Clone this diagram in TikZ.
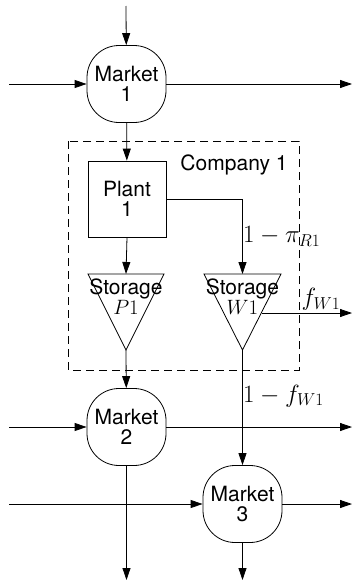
\documentclass[tikz,border=0pt]{standalone}
\usepackage{fontspec}
\setmainfont{TeX Gyre Heros}
\usetikzlibrary{arrows.meta}

\begin{document}
\begin{tikzpicture}[x=1pt,y=-1pt,line width=0.8pt,
    flow/.style={-{Triangle[length=12pt,width=8pt]}},
    market/.style={draw,rounded corners=32pt,minimum width=79pt,minimum height=77pt,align=center,inner sep=0pt},
    plantbox/.style={draw,minimum width=78pt,minimum height=76pt,align=center,inner sep=0pt},
    flowlabel/.style={font=\fontsize{23}{24}\selectfont},
    every node/.append style={font=\fontsize{21}{20}\selectfont}]
    \useasboundingbox (0,0) rectangle (353,581);
    \node[market] (m1) at (126.5,84) {Market\\1};
    \node[plantbox] (plant) at (127,199) {Plant\\1};
    \node[market] (m2) at (126.5,427) {Market\\2};
    \node[market] (m3) at (242.5,504) {Market\\3};
    \draw[dash pattern=on 8pt off 5pt] (68,141) rectangle (299,370);
    \node (comp) at (234,165) {Company 1};
    \draw (88,274) -- (164,274) -- (126,350) coordinate (sp-tip) -- cycle;
    \coordinate (sp-top) at (126,274);
    \node[inner sep=0pt,align=center] (sp) at (126,297) {Storage\\$P1$};
    \draw (204,274) -- (281,274) -- (242.5,350) coordinate (sw-tip) -- cycle;
    \coordinate (sw-top) at (242.5,274);
    \coordinate (sw-side) at (262,313);
    \node[inner sep=0pt,align=center] (sw) at (242.5,297) {Storage\\$W1$};
    \coordinate (in1) at (126,6);
    \coordinate (l1) at (9,84);
    \coordinate (r1) at (352,84);
    \coordinate (l2) at (9,427);
    \coordinate (r2) at (352,427);
    \coordinate (l3) at (9,504);
    \coordinate (r3) at (352,504);
    \coordinate (rw) at (352,313);
    \coordinate (o2) at (126.5,580);
    \coordinate (o3) at (242.5,580);
    \draw[flow] (in1) -- (m1);
    \draw[flow] (l1) -- (m1);
    \draw[flow] (m1) -- (r1);
    \draw[flow] (m1) -- (plant);
    \draw[flow] (plant.south) -- (sp-top);
    \draw[flow] (plant.east |- 0,199) -| (sw-top) node[flowlabel,pos=0.75,right,xshift=-3pt] {$1-\pi_{R1}$};
    \draw[flow] (sw-side) -- (rw) node[flowlabel,midway,above,xshift=14pt,yshift=-1pt] {$f_{W1}$};
    \draw[flow] (sp-tip) -- (m2);
    \draw[flow] (l2) -- (m2);
    \draw[flow] (m2) -- (r2);
    \draw[flow] (sw-tip) -- (m3) node[flowlabel,pos=0.4,right,xshift=-3pt] {$1-f_{W1}$};
    \draw[flow] (l3) -- (m3);
    \draw[flow] (m3) -- (r3);
    \draw[flow] (m2) -- (o2);
    \draw[flow] (m3) -- (o3);
\end{tikzpicture}
\end{document}
